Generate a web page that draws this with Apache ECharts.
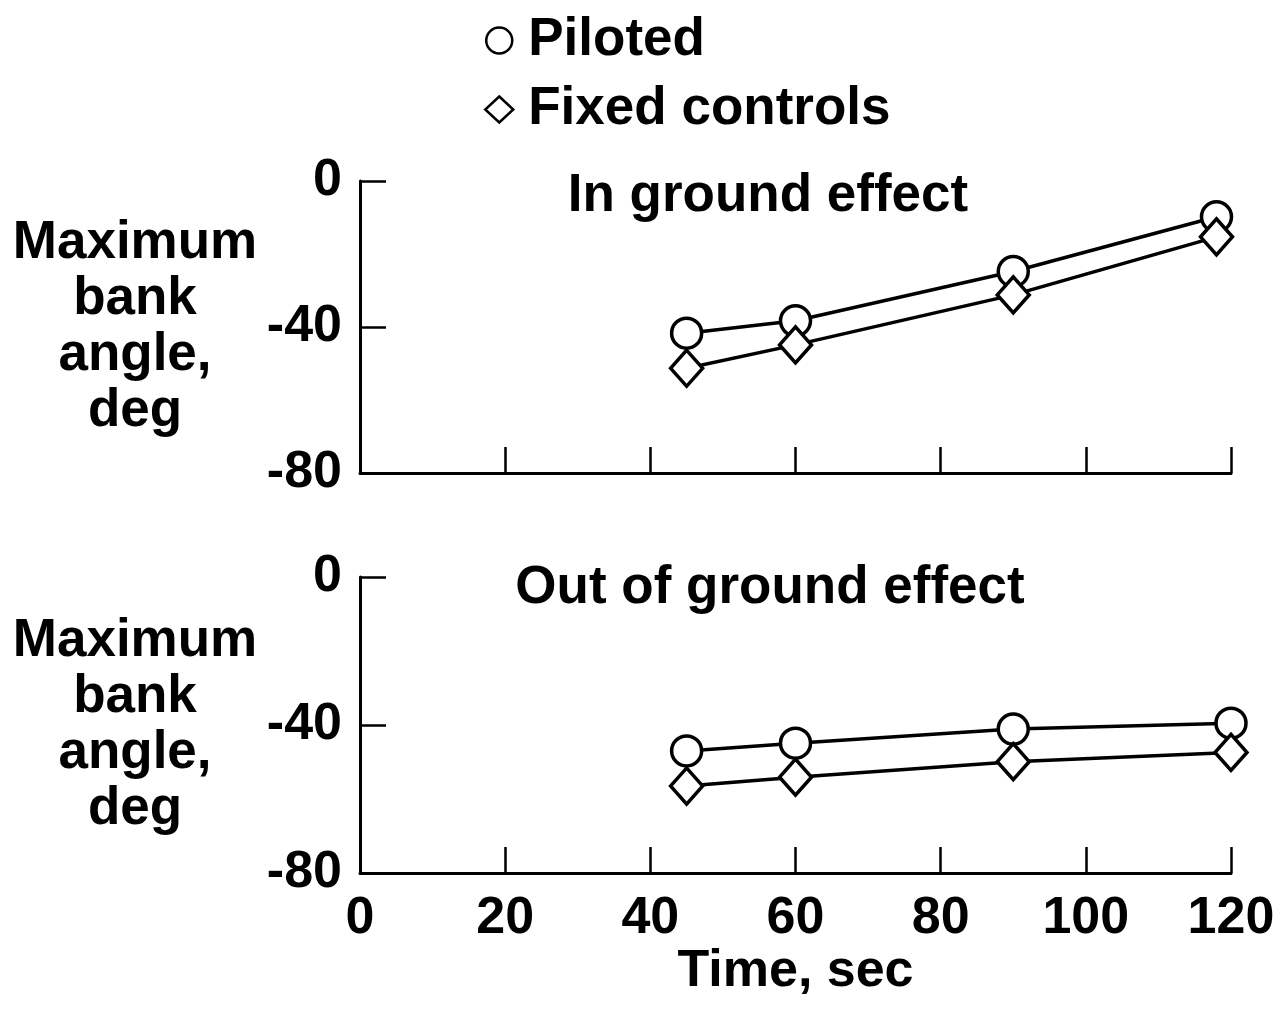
<!DOCTYPE html>
<html>
<head>
<meta charset="utf-8">
<script src="https://cdn.jsdelivr.net/npm/echarts@6/dist/echarts.min.js"></script>
<style>
  html, body { margin: 0; padding: 0; background: #fff; }
  #chart { width: 1288px; height: 1024px; }
</style>
</head>
<body>
<div id="chart"></div>
<script>
// values
const timeIn = [45, 60, 90, 118];
const pilotedIn = [-41.7, -38.3, -24.8, -9.8];
const fixedIn = [-51.3, -44.9, -31.2, -15.3];

const timeOut = [45, 60, 90, 120];
const pilotedOut = [-47.0, -44.9, -41.1, -39.5];
const fixedOut = [-56.5, -54.1, -49.9, -47.4];

const panelTitles = ['In ground effect', 'Out of ground effect'];
const yName = 'Maximum\nbank\nangle,\ndeg';
const xName = 'Time, sec';

const FONT = "'Liberation Sans', Arial, sans-serif";
const ink = '#000';

function pairs(xs, ys) {
  return xs.map((x, i) => [x, ys[i]]);
}

function xAxisFor(idx, showLabels) {
  return {
    type: 'value',
    gridIndex: idx,
    min: 0,
    max: 120,
    interval: 20,
    axisLine: { onZero: false, lineStyle: { color: ink, width: 3 } },
    axisTick: { inside: true, length: 26, lineStyle: { color: ink, width: 2.5 } },
    splitLine: { show: false },
    axisLabel: {
      show: showLabels,
      color: ink,
      fontFamily: FONT,
      fontWeight: 'bold',
      fontSize: 52,
      margin: 20
    },
    name: showLabels ? xName : '',
    nameLocation: 'middle',
    nameGap: 66,
    nameTextStyle: { color: ink, fontFamily: FONT, fontWeight: 'bold', fontSize: 52 }
  };
}

function yAxisFor(idx, shift) {
  return {
    type: 'value',
    gridIndex: idx,
    min: -80,
    max: 0,
    interval: 40,
    axisLine: { onZero: false, lineStyle: { color: ink, width: 3 } },
    axisTick: { inside: true, length: 26, lineStyle: { color: ink, width: 2.5 } },
    splitLine: { show: false },
    axisLabel: {
      color: ink,
      fontFamily: FONT,
      fontWeight: 'bold',
      fontSize: 52,
      margin: 18
    },
    name: yName,
    nameLocation: 'middle',
    nameRotate: 0,
    nameGap: 225,
    nameTextStyle: {
      color: ink,
      fontFamily: FONT,
      fontWeight: 'bold',
      fontSize: 53,
      lineHeight: 56,
      align: 'center',
      padding: [0, 0, shift, 0]
    }
  };
}

function lineSeries(name, idx, data, symbol, size) {
  return {
    name: name,
    type: 'line',
    xAxisIndex: idx,
    yAxisIndex: idx,
    data: data,
    symbol: symbol,
    symbolSize: size,
    showAllSymbol: true,
    lineStyle: { color: ink, width: 3.5 },
    itemStyle: { color: '#fff', borderColor: ink, borderWidth: 3.5 },
    emphasis: { disabled: true },
    z: 3
  };
}

const chart = echarts.init(document.getElementById('chart'), null, { renderer: 'canvas' });

chart.setOption({
  animation: false,
  backgroundColor: '#fff',
  grid: [
    { left: 360, right: 57, top: 181, height: 292 },
    { left: 360, right: 57, top: 577, height: 296 }
  ],
  legend: {
    orient: 'vertical',
    left: 479,
    top: 9,
    itemWidth: 28,
    itemHeight: 26,
    itemGap: 16,
    selectedMode: false,
    data: [
      { name: 'Piloted', icon: 'circle' },
      { name: 'Fixed controls', icon: 'diamond' }
    ],
    itemStyle: { color: '#fff', borderColor: ink, borderWidth: 2.5 },
    textStyle: {
      color: ink, fontFamily: FONT, fontWeight: 'bold', fontSize: 53, lineHeight: 52,
      padding: [0, 0, 0, 10]
    }
  },
  xAxis: [xAxisFor(0, false), xAxisFor(1, true)],
  yAxis: [yAxisFor(0, 22), yAxisFor(1, 18)],
  series: [
    lineSeries('Piloted', 0, pairs(timeIn, pilotedIn), 'circle', 30),
    lineSeries('Fixed controls', 0, pairs(timeIn, fixedIn), 'diamond', [32, 36]),
    lineSeries('Piloted', 1, pairs(timeOut, pilotedOut), 'circle', 30),
    lineSeries('Fixed controls', 1, pairs(timeOut, fixedOut), 'diamond', [32, 36])
  ],
  graphic: [
    {
      type: 'text', x: 768, y: 196,
      style: { text: panelTitles[0], fill: ink, font: 'bold 53px ' + FONT, textAlign: 'center', textVerticalAlign: 'middle' }
    },
    {
      type: 'text', x: 770, y: 588,
      style: { text: panelTitles[1], fill: ink, font: 'bold 53px ' + FONT, textAlign: 'center', textVerticalAlign: 'middle' }
    }
  ]
});
</script>
</body>
</html>
